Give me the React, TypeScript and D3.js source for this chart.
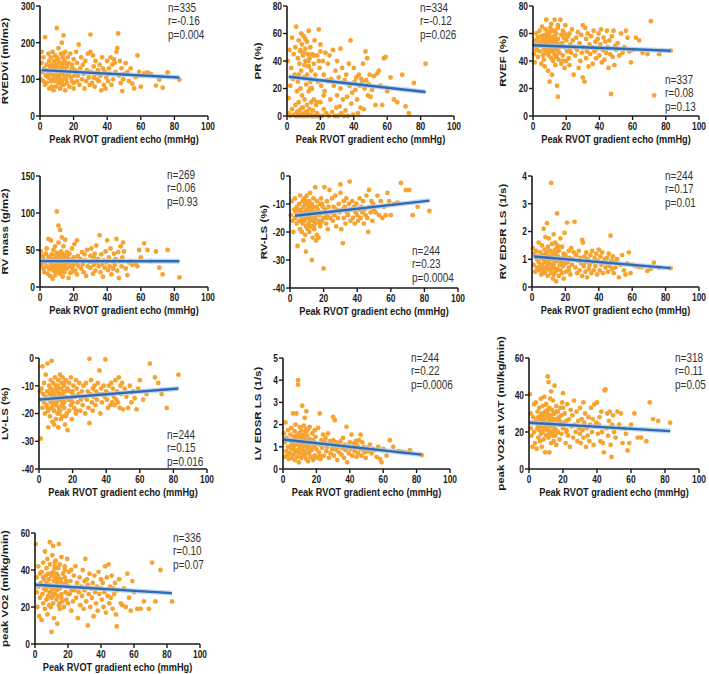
import React from 'react';
import * as d3 from 'd3';

// peak RVOT gradient on echo (mmHg), shared by every panel (same patients)
const rvot = [
  0.5, 1, 1, 1.5, 2, 2, 2.5, 3, 3, 3.5,
  4, 4, 4.5, 5, 5, 5.5, 5.5, 6, 6, 6.5,
  6.5, 7, 7, 7, 7.5, 7.5, 8, 8, 8, 8.5,
  8.5, 9, 9, 9, 9.5, 9.5, 10, 10, 10, 10.5,
  10.5, 11, 11, 11, 11.5, 11.5, 12, 12, 12, 12.5,
  12.5, 13, 13, 13, 13.5, 13.5, 14, 14, 14, 14.5,
  14.5, 15, 15, 15, 15.5, 16, 16, 16.5, 17, 17,
  17.5, 18, 18, 18.5, 19, 19, 19.5, 20, 20, 20.5,
  21, 21.5, 22, 22, 22.5, 23, 23.5, 24, 24.5, 25,
  25.5, 26, 26.5, 27, 27.5, 28, 28.5, 29, 29.5, 30,
  30, 30.5, 31, 31.5, 32, 32, 32.5, 33, 33.5, 34,
  34.5, 35, 35.5, 36, 36.5, 37, 37.5, 38, 38.5, 39,
  39.5, 40, 40.5, 41, 41.5, 42, 42.5, 43, 43.5, 44,
  44.5, 45, 45.5, 46, 46.5, 47, 47.5, 48, 48.5, 49,
  49.5, 50, 51, 52, 53, 54, 55, 56, 57, 58,
  59, 60, 62, 64, 66, 69, 71, 73, 76, 83,
  8, 10, 11, 12, 13, 14, 15, 16, 18, 20,
  5, 7, 9, 10, 12, 13, 14, 16, 19, 22,
];

const rvedvi = [
  100, 175, 145, 120, 95, 160, 130, 215, 85, 110,
  140, 90, 125, 170, 105, 75, 150, 115, 135, 95,
  160, 120, 80, 140, 100, 175, 130, 70, 110, 150,
  95, 125, 165, 105, 140, 80, 240, 115, 135, 100,
  155, 90, 120, 185, 110, 145, 75, 130, 100, 170,
  120, 140, 95, 200, 115, 160, 220, 85, 130, 105,
  150, 70, 125, 175, 100, 135, 90, 160, 115, 145,
  80, 120, 170, 105, 140, 95, 130, 75, 155, 110,
  125, 175, 95, 145, 110, 195, 85, 130, 160, 100,
  140, 115, 75, 150, 95, 125, 170, 105, 85, 222,
  175, 120, 90, 165, 105, 135, 80, 150, 115, 100,
  125, 95, 140, 110, 70, 160, 130, 85, 120, 75,
  105, 150, 95, 130, 115, 160, 85, 140, 100, 155,
  145, 120, 175, 185, 225, 110, 150, 90, 130, 68,
  100, 115, 144, 120, 95, 130, 88, 75, 106, 165,
  120, 80, 116, 119, 115, 83, 99, 77, 119, 99,
  130, 110, 150, 95, 125, 170, 105, 140, 120, 90,
  115, 135, 100, 160, 125, 85, 145, 110, 130, 120,
];

const pr = [
  40, 13, 2, 48, 22, 0, 35, 5, 57, 27,
  45, 1, 30, 8, 50, 0, 65, 18, 3, 42,
  25, 55, 0, 10, 38, 4, 47, 20, 1, 60,
  33, 0, 52, 15, 44, 6, 28, 2, 58, 37,
  12, 49, 0, 40, 23, 3, 54, 30, 8, 45,
  0, 36, 18, 62, 5, 42, 1, 27, 50, 10,
  33, 0, 45, 20, 4, 38, 12, 55, 0, 30,
  8, 44, 2, 25, 63, 0, 35, 10, 47, 22,
  0, 40, 5, 30, 18, 46, 2, 26, 38, 0,
  44, 12, 27, 3, 48, 22, 0, 33, 6, 40,
  15, 0, 28, 7, 49, 20, 2, 35, 12, 0,
  26, 4, 30, 14, 0, 38, 22, 55, 9, 17,
  1, 35, 25, 19, 28, 12, 2, 30, 22, 6,
  27, 25, 38, 5, 20, 47, 26, 42, 15, 23,
  30, 14, 19, 29, 8, 31, 33, 22, 8, 42,
  43, 18, 28, 12, 10, 30, 7, 2, 24, 38,
  48, 0, 56, 3, 40, 25, 0, 44, 10, 52,
  0, 30, 6, 46, 2, 36, 20, 0, 40, 15,
];

const rvef = [
  45, 52, 39, 55, 48, 60, 50, 43, 57, 53,
  62, 47, 54, 38, 58, 51, 65, 44, 56, 49,
  41, 59, 53, 36, 63, 48, 55, 46, 70, 52,
  57, 33, 50, 61, 44, 54, 25, 58, 47, 64,
  51, 42, 56, 67, 30, 53, 48, 62, 40, 55,
  52, 70, 45, 58, 37, 50, 60, 43, 54, 22,
  48, 14, 56, 64, 41, 52, 46, 70, 38, 59,
  53, 62, 44, 57, 35, 50, 66, 40, 55, 47,
  58, 42, 60, 37, 52, 46, 63, 55, 30, 50,
  44, 57, 48, 61, 35, 53, 40, 59, 46, 28,
  66, 50, 25, 64, 42, 56, 47, 60, 36, 52,
  45, 58, 50, 38, 62, 47, 54, 42, 49, 56,
  60, 44, 52, 63, 39, 48, 57, 41, 54, 46,
  62, 50, 35, 55, 45, 16, 58, 43, 62, 37,
  51, 48, 53, 44, 60, 46, 50, 62, 57, 47,
  39, 48, 57, 55, 46, 45, 69, 15, 45, 47.5,
  55, 61, 47, 52, 58, 44, 66, 50, 40, 57,
  53, 46, 59, 49, 55, 62, 43, 51, 60, 48,
];

const rvMass = [
  48, 30, null, 42, 25, 38, 20, 33, null, 45,
  28, 52, 18, 36, 65, null, 24, 40, 15, 31,
  63, 27, 44, null, 11, 35, 22, 50, 30, null,
  38, 16, 55, 26, 42, 30, 102, 20, 46, 34,
  25, 60, 36, 83, null, 29, 77, 40, 18, 48,
  32, 22, 67, 38, 14, 44, null, 27, 55, 35,
  20, 41, 30, 64, null, 25, 47, 33, 12, 38,
  45, 28, 19, 36, 52, null, 24, 40, 30, 58,
  22, 35, 63, 17, 42, 28, null, 38, 25, 47,
  31, 20, 44, 36, 15, 50, 28, null, 34, 42,
  26, 52, 35, 18, 40, 30, 45, 22, 56, 33,
  38, 28, 70, 20, 44, 31, 14, 36, 26, 48,
  33, 63, 23, 40, 28, 52, 17, 35, 25, 45,
  30, 38, 65, 22, 47, 12, 35, 55, 28, 40,
  60, 48, 25, 16, 33, 35, 30, null, 32, 28,
  50, 40, 59, 50, 35, 48, 26, 17, 50, 13,
  36, 29, 44, 24, 39, 31, 27, 42, 34, 21,
  41, 33, 26, 37, 30, 45, 23, 35, 28, 32,
];

const rvLs = [
  -14, null, -9, -16, null, -20, -12, -15, -8, -13,
  -17, -11, -25, -14, null, -10, -16, -19, -7, -13,
  -12, -15, -20, null, -9, -17, -11, -14, -23, -8,
  -16, -13, -21, -10, -18, -27, -12, -15, -7, -19,
  -14, null, -11, -17, -9, -20, -13, -16, -6, -15,
  -12, -30, -18, -10, -14, -22, -8, -16, -11, -19,
  -13, -17, -4, -15, -23, -9, -21, -12, -16, -22,
  -14, -10, -18, -8, -13, -16, -11, -33, -15, -4,
  -12, -17, -9, -14, -19, -11, -5, -15, -13, -8,
  -16, -11, -14, -7, -18, -12, -15, -10, -13, -3,
  -6, -19, -12, -24, -9, -15, -11, -17, -8, -13,
  -14, -10, -2, -16, -12, -9, -15, -11, -17, -13,
  -10, -14, -16, -12, -8, -15, -11, -13, -9, -17,
  -12, -14, -7, -15, -20, -5, -11, -13, -9, -16,
  -10, -12, -13, -7, -14, -9, -15, -11, -14, -6,
  -9, -14, -10, -9.5, -2.5, -5, -5, -14, -11, -12.5,
  -15, -13, -10, -18, -12, -16, -14, -11, -17, -13,
  -12, -16, -14, -9, -15, -11, -18, -13, -10, -15,
];

const rvEdsr = [
  1.4, null, 0.8, 1.2, null, 0.55, 1.3, 1.0, 0.7, 1.1,
  0.9, 1.6, 0.6, 1.25, null, 0.45, 1.05, 0.8, 1.5, 0.65,
  1.15, 0.5, 2.1, null, 0.9, 1.35, 0.7, 1.8, 0.55, 1.0,
  1.2, 0.75, 2.3, 0.95, 1.45, 0.4, 1.1, 0.65, 1.75, 0.85,
  1.3, null, 0.6, 1.0, 3.75, 0.5, 1.55, 0.8, 1.25, 0.3,
  1.05, 0.7, 1.9, 0.45, 1.2, 0.9, 1.6, 0.55, 1.35, 0.2,
  0.95, 1.5, 0.65, 2.65, 1.1, 0.4, 1.3, 0.8, 1.75, 0.6,
  1.0, 0.5, 1.45, 0.75, 1.2, 0.3, 1.95, 0.85, 1.15, 0.55,
  2.32, 0.9, 1.3, 0.6, 1.05, 0.45, 1.4, 0.8, 1.0, 1.25,
  2.35, 0.7, 1.15, 0.5, 0.95, 1.3, 0.6, 1.05, 0.85, 1.7,
  0.4, 1.6, 0.75, 1.1, 0.55, 0.9, 1.25, 0.35, 1.0, 0.65,
  0.8, 1.15, 0.5, 1.3, 0.9, 0.6, 1.05, 0.75, 1.2, 0.45,
  0.95, 1.35, 0.6, 1.1, 0.8, 1.25, 0.5, 0.9, 1.0, 0.7,
  0.85, 1.05, 0.55, 1.2, 0.75, 1.85, 0.95, 0.65, 1.1, 0.5,
  0.9, 0.7, 1.0, 0.35, 0.8, 1.15, 0.6, 0.45, 0.85, 1.25,
  0.5, 0.8, 0.75, 0.72, 0.72, 0.58, 0.65, 0.88, 0.7, 0.68,
  1.1, 0.85, 1.3, 0.7, 1.0, 1.2, 0.6, 1.45, 0.9, 1.05,
  0.75, 1.0, 1.25, 0.65, 1.15, 0.8, 1.35, 0.95, 1.1, 0.7,
];

const lvLs = [
  -12, -15, -29, -11, -3, -18, -13, -16, -9, -20,
  -14, -6, -17, -2, -12, -25, -19, -10, -15, -13,
  -21, -8, -16, -11, -18, -1, -14, -23, -12, -17,
  -9, -19, -13, -24, -15, -7, -17, -11, -22, -14,
  -16, -10, -20, -12, -25, -8, -15, -18, -13, -6,
  -19, -11, -14, -22, -9, -17, -13, -21, -7, -15,
  -12, -18, -10, -16, -24, -14, -8, -20, -11, -26,
  -15, -9, -19, -12, -17, -7, -22, -13, -16, -10,
  -18, -14, -8, -20, -11, -16, -13, -9, -19, -15,
  -12, -17, -10, -14, -20, -9, -15, -12, -18, -0.3,
  -23.5, -13, -8, -16, -11, -19, -14, -10, -17, -12,
  -15, -9, -13, -4.5, -20, -11, -16, -13, -10, -14,
  -0.5, -12, -15, -18, -10, -13, -17, -9, -16, -11,
  -14, -17, -8, -15, -12, -16, -7, -18, -10, -13,
  -9, -18.5, -11, -14, -18, -10, -16, -12, -14.5, -18.5,
  -11, -8, -15, -13, -2, -7, -9, -13, -18, -6,
  -14, -17, -11, -19, -13, -16, -9, -21, -15, -12,
  -18, -13, -16, -10, -20, -14, -17, -12, -15, -19,
];

const lvEdsr = [
  1.6, 0.55, 1.2, 2.1, 0.8, 1.4, 0.6, 1.0, 1.75, 0.45,
  1.3, 0.7, 1.55, 0.9, 1.85, 0.5, 1.15, 2.5, 0.65, 1.45,
  1.0, 1.7, 0.4, 1.25, 2.0, 0.75, 1.5, 2.5, 1.1, 0.55,
  1.35, 4.0, 0.85, 3.8, 1.6, 0.3, 1.2, 1.9, 0.7, 1.45,
  1.05, 1.75, 0.5, 1.3, 0.9, 2.85, 1.55, 0.65, 1.15, 1.95,
  0.8, 1.4, 2.3, 0.6, 1.1, 1.65, 2.6, 0.45, 1.25, 0.95,
  1.5, 0.35, 1.8, 1.05, 0.7, 1.35, 1.9, 0.55, 1.2, 0.85,
  1.6, 0.4, 1.3, 1.0, 1.75, 0.6, 1.45, 0.9, 1.15, 0.5,
  1.85, 0.75, 2.5, 1.1, 0.45, 1.3, 0.95, 1.55, 0.6, 1.2,
  1.4, 0.8, 1.0, 1.6, 0.5, 1.25, 0.7, 1.15, 0.9, 1.3,
  2.35, 0.6, 2.2, 1.05, 0.85, 1.2, 0.4, 1.1, 0.75, 1.0,
  1.25, 0.65, 0.95, 1.4, 0.5, 1.1, 0.85, 1.9, 0.3, 1.0,
  0.7, 1.2, 0.9, 1.55, 0.6, 1.0, 1.15, 0.8, 1.25, 0.55,
  1.05, 0.7, 1.3, 0.9, 1.55, 0.6, 1.2, 0.85, 1.0, 0.75,
  0.5, 0.95, 0.8, 1.1, 0.7, 0.9, 0.85, 0.55, 1.0, 0.45,
  0.3, 0.9, 0.6, 1.3, 1.0, 0.8, 0.78, 0.75, 0.85, 0.62,
  1.3, 1.6, 0.9, 1.45, 1.05, 1.8, 0.75, 1.25, 0.55, 1.15,
  1.1, 0.85, 1.5, 0.95, 1.35, 0.7, 1.7, 1.0, 1.2, 0.6,
];

const vo2Vat = [
  40.5, 22, 30, 18, 25, 12, 28, 35, 20, 14,
  26, 36, 11, 24, 31, 17, 28, 21, 33, 15,
  27, 19, 38, 23, 30, 12, 25, 34, 20, 29,
  16, 26, 39, 22, 31, 9, 24, 35, 18, 28,
  21, 50, 30, 25, 47, 17, 33, 9, 27, 38,
  23, 29, 14, 42, 26, 32, 20, 37, 24, 15,
  30, 45, 22, 27, 18, 34, 13, 26, 31, 20,
  28, 16, 24, 33, 19, 29, 36, 22, 41, 25,
  30, 14, 26, 21, 35, 18, 27, 12, 32, 23,
  29, 17, 37, 24, 20, 31, 15, 26, 22, 19,
  33, 14, 27, 21, 36, 17, 25, 30, 12, 22,
  18, 28, 15, 24, 33, 20, 27, 13, 35, 23,
  25, 36, 19, 24, 28, 15, 31, 20, 14, 9,
  42.5, 43, 22, 30, 18, 26, 31, 13, 6.5, 24,
  29, 20, 17, 31, 24, 30, 14, 22, 19, 10,
  14, 24, 30, 17, 17, 15, 36, 27, 26, 25,
  27, 23, 32, 19, 28, 24, 30, 21, 26, 33,
  22, 29, 25, 35, 21, 27, 18, 31, 24, 20,
];

const vo2Peak = [
  54, 28, 36, 20, 42, 31, 15, 38, 25, 33,
  13, 39, 27, 44, 22, 35, 30, 50, 19, 37,
  29, 41, 24, 33, 16, 46, 32, 26, 38, 21,
  35, 55, 28, 43, 20, 31, 6.5, 37, 25, 48,
  30, 53, 22, 39, 34, 14, 42, 27, 36, 31,
  45, 24, 38, 29, 11, 33, 41, 26, 36, 21,
  54, 30, 19, 43, 35, 27, 47, 23, 38, 32,
  20, 36, 42, 28, 33, 24, 46, 31, 22, 39,
  27, 34, 18, 40, 30, 23, 37, 29, 42, 25,
  33, 14, 28, 36, 21, 31, 26, 40, 19, 34,
  29, 46, 23, 35, 10, 32, 27, 38, 20, 30,
  25, 33, 15, 37, 28, 22, 31, 18, 39, 27,
  30, 35, 24, 33, 20, 28, 42, 17, 36, 26,
  43, 22, 31, 25, 37, 19, 30, 27, 33, 16,
  9.5, 29, 35, 22, 21, 30, 20, 38, 25, 18,
  34, 28, 19, 19, 23, 19, 44, 23, 40, 23,
  31, 38, 26, 44, 29, 35, 22, 33, 40, 27,
  36, 24, 32, 28, 41, 30, 37, 25, 34, 29,
];

const series = [rvedvi, pr, rvef, rvMass, rvLs, rvEdsr, lvLs, lvEdsr, vo2Vat, vo2Peak];
const yTitles = ['RVEDVi (ml/m2)', 'PR (%)', 'RVEF (%)', 'RV mass (g/m2)', 'RV-LS (%)', 'RV EDSR LS (1/s)',
  'LV-LS (%)', 'LV EDSR LS (1/s)', 'peak VO2 at VAT (ml/kg/min)', 'peak VO2 (ml/kg/min)'];
const yTicks = [
  [0, 100, 200, 300], [0, 20, 40, 60, 80], [0, 20, 40, 60, 80], [0, 50, 100, 150], [-40, -30, -20, -10, 0],
  [0, 1, 2, 3, 4], [-40, -30, -20, -10, 0], [0, 1, 2, 3, 4, 5], [0, 20, 40, 60], [0, 20, 40, 60],
];
const xTicks = [0, 20, 40, 60, 80, 100];
const xTitle = 'Peak RVOT gradient echo (mmHg)';
const stats = [
  ['n=335', 'r=-0.16', 'p=0.004'], ['n=334', 'r=-0.12', 'p=0.026'], ['n=337', 'r=0.08', 'p=0.13'],
  ['n=269', 'r=0.06', 'p=0.93'], ['n=244', 'r=0.23', 'p=0.0004'], ['n=244', 'r=0.17', 'p=0.01'],
  ['n=244', 'r=0.15', 'p=0.016'], ['n=244', 'r=0.22', 'p=0.0006'], ['n=318', 'r=0.11', 'p=0.05'],
  ['n=336', 'r=0.10', 'p=0.07'],
];
// regression line end points: [x0, y0, x1, y1]
const fits = [
  [1, 125, 83, 105], [1, 28.5, 83, 17.5], [0, 51.5, 83, 47.5], [0, 35, 83, 34.8], [3, -14.2, 83, -8.8],
  [1, 1.1, 83, 0.68], [0, -15, 83, -11], [0, 1.33, 83, 0.65], [0, 25, 83, 20.5], [0, 32, 83, 27.5],
];

// plot frames (layout only)
const frames = [
  { l: 40, t: 6, r: 208, b: 116, tx: 5, sx: 168, sy: 12 },
  { l: 287, t: 6, r: 454, b: 116, tx: 258, sx: 420, sy: 12 },
  { l: 533, t: 6, r: 699, b: 116, tx: 503, sx: 665, sy: 84 },
  { l: 40, t: 176, r: 208, b: 287, tx: 5, sx: 167, sy: 179 },
  { l: 290, t: 176, r: 458, b: 288, tx: 264, sx: 412, sy: 255 },
  { l: 532, t: 176, r: 699, b: 287, tx: 503, sx: 665, sy: 180 },
  { l: 39, t: 358, r: 207, b: 469, tx: 5, sx: 167, sy: 439 },
  { l: 283, t: 358, r: 450, b: 469, tx: 258, sx: 411, sy: 362 },
  { l: 529, t: 358, r: 699, b: 469, tx: 501, sx: 675, sy: 362 },
  { l: 35, t: 533, r: 200, b: 644, tx: 5, sx: 173, sy: 542 },
];

const SQ = 0.8; // the figure is squeezed horizontally
const axisColor = '#1a1a1a';
const dotColor = '#F6A330';
const lineColor = '#2C6BB7';
const font = 'Liberation Sans, Arial, sans-serif';

function Panel({ i }: { i: number }) {
  const f = frames[i];
  const ticks = yTicks[i];
  const x = d3.scaleLinear().domain([0, 100]).range([f.l, f.r]);
  const y = d3.scaleLinear().domain([ticks[0], ticks[ticks.length - 1]]).range([f.b, f.t]);
  const pts = rvot.map((xv, k) => [xv, series[i][k]] as [number, number | null]).filter(d => d[1] !== null) as [number, number][];
  const fit = fits[i];
  const line = d3.line<[number, number]>().x(d => x(d[0])).y(d => y(d[1]));
  const fitPath = line([[fit[0], fit[1]], [fit[2], fit[3]]]) || '';
  const cy = (f.t + f.b) / 2;
  return (
    <g>
      {pts.map((d, k) => (
        <circle key={k} cx={x(d[0])} cy={y(d[1])} r={2.4} fill={dotColor} />
      ))}
      <path d={fitPath} stroke="#a9c8ea" strokeWidth={5} fill="none" opacity={0.7} />
      <path d={fitPath} stroke={lineColor} strokeWidth={2.4} fill="none" />
      {/* y axis */}
      <line x1={f.l} x2={f.l} y1={f.t} y2={f.b} stroke={axisColor} strokeWidth={1.6} />
      {ticks.map(t => (
        <g key={'y' + t}>
          <line x1={f.l - 4} x2={f.l} y1={y(t)} y2={y(t)} stroke={axisColor} strokeWidth={1.4} />
          <text transform={`translate(${f.l - 5},${y(t)}) scale(${SQ},1)`} textAnchor="end" dominantBaseline="central"
            fontSize={10.5} fontWeight="bold" fill={axisColor} fontFamily={font}>{String(t)}</text>
        </g>
      ))}
      {/* x axis */}
      <line x1={f.l} x2={f.r} y1={f.b} y2={f.b} stroke={axisColor} strokeWidth={1.6} />
      {xTicks.map(t => (
        <g key={'x' + t}>
          <line x1={x(t)} x2={x(t)} y1={f.b} y2={f.b + 4} stroke={axisColor} strokeWidth={1.4} />
          <text transform={`translate(${x(t)},${f.b + 10}) scale(${SQ},1)`} textAnchor="middle" dominantBaseline="central"
            fontSize={10.5} fontWeight="bold" fill={axisColor} fontFamily={font}>{String(t)}</text>
        </g>
      ))}
      <text transform={`translate(${(f.l + f.r) / 2},${f.b + 23}) scale(${SQ},1)`} textAnchor="middle" dominantBaseline="central"
        fontSize={11.5} fontWeight="bold" fill={axisColor} fontFamily={font}>{xTitle}</text>
      <text transform={`translate(${f.tx},${cy}) scale(${SQ},1) rotate(-90)`} textAnchor="middle" dominantBaseline="central"
        fontSize={11.5} fontWeight="bold" fill={axisColor} fontFamily={font}>{yTitles[i]}</text>
      {stats[i].map((s, k) => (
        <text key={s + k} transform={`translate(${f.sx},${f.sy + k * 13.3}) scale(${SQ},1)`} fontSize={12.5}
          fill="#333" fontFamily={font}>{s}</text>
      ))}
    </g>
  );
}

export default function App() {
  return (
    <svg width={709} height={674} style={{ position: 'absolute', left: 0, top: 0, background: '#fff' }}>
      {frames.map((_, i) => <Panel key={i} i={i} />)}
    </svg>
  );
}
